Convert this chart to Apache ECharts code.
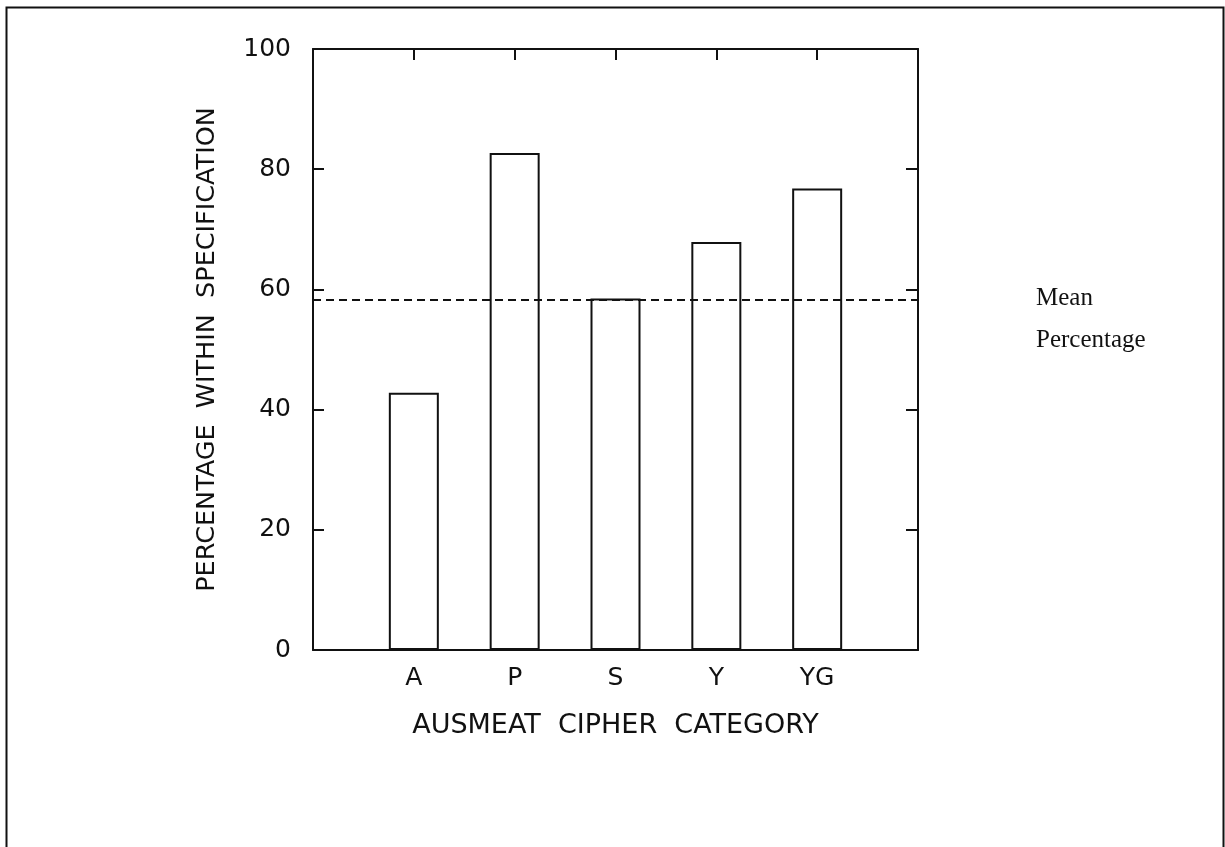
<!DOCTYPE html>
<html>
<head>
<meta charset="utf-8">
<title>Percentage within specification by AUSMEAT cipher category</title>
<script src="https://cdn.jsdelivr.net/npm/echarts@6/dist/echarts.min.js"></script>
<style>
  html, body { margin: 0; padding: 0; background: #ffffff; }
  #chart { width: 1225px; height: 847px; }
</style>
</head>
<body>
<div id="chart"></div>
<script>
// Cipher categories and the share of carcasses within specification (%)
const categories = ['A', 'P', 'S', 'Y', 'YG'];
const percentWithinSpec = [42.8, 82.7, 58.5, 67.9, 76.8];
const meanPercentage = 58.2;
const yTicks = [0, 20, 40, 60, 80, 100];
const meanLabelLines = ['Mean', 'Percentage'];

const sansFont = '"DejaVu Sans", "Liberation Sans", sans-serif';
const serifFont = '"Liberation Serif", "DejaVu Serif", serif';
const ink = '#111111';

const chart = echarts.init(document.getElementById('chart'), null, { renderer: 'canvas' });

// Categories sit on whole-number slots with one empty slot at each end
const slotCount = categories.length + 1;
const axisLine = { show: true, onZero: false, lineStyle: { color: ink, width: 2 } };

chart.setOption({
  animation: false,
  backgroundColor: '#ffffff',
  grid: {
    left: 313, right: 307, top: 49, bottom: 197,
    containLabel: false,
    outerBoundsMode: 'none'
  },
  xAxis: [
    {
      type: 'value',
      position: 'bottom',
      min: 0, max: slotCount, interval: 1,
      axisLine: axisLine,
      splitLine: { show: false },
      axisTick: { show: true, inside: true, length: 12, lineStyle: { color: ink, width: 2 } },
      axisLabel: {
        show: true, margin: 16,
        fontFamily: sansFont, fontSize: 25, color: ink,
        formatter: v => categories[v - 1] || ''
      },
      name: 'AUSMEAT  CIPHER  CATEGORY',
      nameLocation: 'middle',
      nameGap: 62,
      nameTextStyle: { fontFamily: sansFont, fontSize: 27, color: ink }
    },
    {
      type: 'value',
      position: 'top',
      min: 0, max: slotCount, interval: 1,
      axisLine: axisLine,
      splitLine: { show: false },
      axisTick: { show: true, inside: true, length: 11, lineStyle: { color: ink, width: 2 } },
      axisLabel: { show: false }
    }
  ],
  yAxis: [
    {
      type: 'value',
      position: 'left',
      min: yTicks[0], max: yTicks[yTicks.length - 1], interval: yTicks[1] - yTicks[0],
      axisLine: axisLine,
      splitLine: { show: false },
      axisTick: { show: true, inside: true, length: 11, lineStyle: { color: ink, width: 2 } },
      axisLabel: { show: true, margin: 22, fontFamily: sansFont, fontSize: 25, color: ink },
      name: 'PERCENTAGE  WITHIN  SPECIFICATION',
      nameLocation: 'middle',
      nameRotate: 90,
      nameGap: 93,
      nameTextStyle: { fontFamily: sansFont, fontSize: 25.5, color: ink }
    },
    {
      type: 'value',
      position: 'right',
      min: yTicks[0], max: yTicks[yTicks.length - 1], interval: yTicks[1] - yTicks[0],
      axisLine: axisLine,
      splitLine: { show: false },
      axisTick: { show: true, inside: true, length: 12, lineStyle: { color: ink, width: 2 } },
      axisLabel: { show: false }
    }
  ],
  series: [
    {
      type: 'bar',
      xAxisIndex: 0,
      yAxisIndex: 0,
      barWidth: 50,
      data: categories.map((c, i) => [i + 1, percentWithinSpec[i]]),
      itemStyle: { color: '#ffffff', borderColor: ink, borderWidth: 2 },
      emphasis: { disabled: true },
      markLine: {
        silent: true,
        symbol: 'none',
        z: 10,
        label: { show: false },
        lineStyle: { color: ink, width: 2, type: [8, 5] },
        data: [{ yAxis: meanPercentage }]
      }
    }
  ]
});

// Page frame plus the "Mean Percentage" note beside the dashed line
const meanY = chart.convertToPixel({ yAxisIndex: 0 }, meanPercentage);
const noteX = 1036;
chart.setOption({
  graphic: [
    {
      type: 'polyline',
      silent: true,
      shape: { points: [[6.5, 860], [6.5, 7.5], [1223.5, 7.5], [1223.5, 860]] },
      style: { stroke: ink, lineWidth: 2, fill: null }
    },
    {
      type: 'text',
      silent: true,
      x: noteX, y: meanY - 2,
      style: {
        text: meanLabelLines[0],
        font: '25px ' + serifFont,
        fill: ink,
        textAlign: 'left',
        textVerticalAlign: 'middle'
      }
    },
    {
      type: 'text',
      silent: true,
      x: noteX, y: meanY + 40,
      style: {
        text: meanLabelLines[1],
        font: '25px ' + serifFont,
        fill: ink,
        textAlign: 'left',
        textVerticalAlign: 'middle'
      }
    }
  ]
});
</script>
</body>
</html>
